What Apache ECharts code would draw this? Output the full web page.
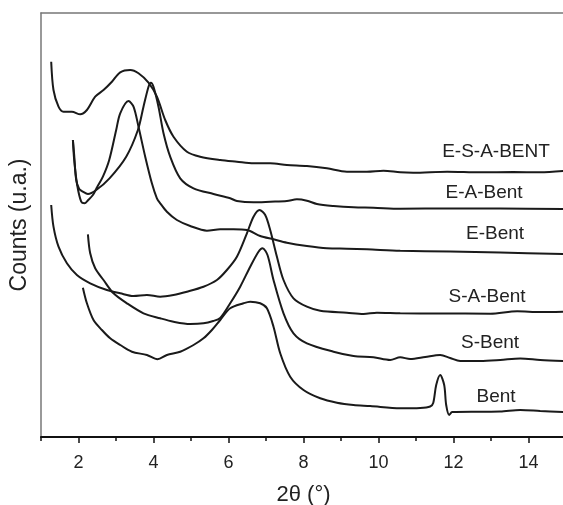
<!DOCTYPE html>
<html>
<head>
<meta charset="utf-8">
<script src="https://cdn.jsdelivr.net/npm/echarts@6/dist/echarts.min.js"></script>
<style>html,body{margin:0;padding:0;background:#fff}#c{width:563px;height:505px}</style>
</head>
<body>
<div id="c"></div>
<script>
// ---- data (2θ in degrees, counts in arbitrary units) ----
var seriesNames = ['E-S-A-BENT', 'E-A-Bent', 'E-Bent', 'S-A-Bent', 'S-Bent', 'Bent'];
var xTickLabels = [2, 4, 6, 8, 10, 12, 14];

var esabent = [[1.272,375.3],[1.333,347],[1.467,330.3],[1.6,325.3],[1.824,325.3],[2.045,322.7],[2.224,327],[2.445,340.3],[2.667,347],[2.891,355.3],[3.112,364.7],[3.379,367],[3.6,363.7],[3.867,354.3],[4.091,340.3],[4.312,317],[4.533,300.3],[4.891,285.3],[5.245,280.3],[5.779,277],[6.224,275.3],[6.667,273.7],[7.112,273.7],[7.557,272],[8.091,271],[8.624,268.7],[9.157,265.3],[9.691,265.3],[10.133,266.3],[10.579,264.7],[10.925,264.3],[11.832,265.3],[12.712,264.7],[13.592,265],[14.312,264.7],[14.925,266]];

var eabent = [[1.851,297],[1.885,282],[1.939,257],[2.019,248],[2.117,245.3],[2.251,243],[2.472,247],[2.827,258.7],[3.272,280.3],[3.584,307],[3.733,330.3],[3.867,350.3],[3.931,354.3],[4.0,350.3],[4.133,330.3],[4.267,303.7],[4.445,280.3],[4.712,258.7],[5.067,248.7],[5.6,243],[6.045,238.7],[6.224,236],[6.667,234.7],[7.112,235.3],[7.557,236],[7.824,237.7],[8.091,236.3],[8.357,233],[8.8,231],[9.333,229.7],[9.867,229.3],[10.579,228.3],[11.912,228.5],[13.245,228.5],[14.925,228]];

var ebent = [[1.851,297],[1.885,277],[1.965,252],[2.072,235.3],[2.16,233.7],[2.259,237],[2.384,242],[2.499,250],[2.651,260.3],[2.819,277],[3.005,307],[3.112,323.7],[3.333,336],[3.467,330.3],[3.6,310.3],[3.779,280.3],[3.957,253.7],[4.091,238.7],[4.179,233.7],[4.357,225.3],[4.624,217],[4.979,211],[5.424,206.3],[5.779,207.7],[6.133,207.7],[6.491,207],[6.845,201],[7.2,197.7],[7.557,194.3],[8.091,191],[8.624,188.7],[9.157,188.3],[9.691,187.7],[10.579,186.3],[11.912,185.5],[13.245,184.5],[14.925,183]];

var sabent = [[1.272,232],[1.333,210.3],[1.467,190.3],[1.691,173.7],[1.957,162],[2.312,153.7],[2.757,147],[3.112,143.7],[3.467,141],[3.824,142],[4.179,140.3],[4.533,142],[4.891,145.3],[5.333,150.3],[5.691,157],[5.957,167],[6.224,180.3],[6.491,203.7],[6.667,220.3],[6.827,227],[6.979,222],[7.112,207],[7.291,180.3],[7.467,157],[7.733,138.7],[8.091,130.3],[8.445,126.3],[9.157,124.3],[9.6,123],[9.957,124.3],[10.579,123.7],[11.645,123.5],[12.979,123.3],[13.699,125.7],[14.312,125],[14.925,125.3]];

var sbent = [[2.251,202.7],[2.312,183.7],[2.445,168.7],[2.667,157],[2.933,143.7],[3.291,133.7],[3.733,123.7],[4.179,118.7],[4.533,115.3],[4.979,113],[5.333,113.7],[5.592,116],[5.779,119],[6.045,133.7],[6.312,150.3],[6.579,170.3],[6.8,185.3],[6.907,188.7],[7.04,182],[7.2,157],[7.467,123.7],[7.733,103.7],[8.091,93.7],[8.8,85.3],[9.333,81],[9.867,79.7],[10.312,77],[10.579,79.7],[10.845,78],[11.245,80],[11.645,82],[11.912,79],[12.179,76],[12.712,76],[13.245,77],[13.779,78.5],[14.312,77],[14.925,76]];

var bent = [[2.117,149.3],[2.224,133.7],[2.4,117],[2.624,107],[2.845,98.7],[3.112,92],[3.424,85.3],[3.824,82],[4.107,77.7],[4.357,82],[4.712,85.3],[5.067,92],[5.333,98.7],[5.557,107],[5.779,117],[6.045,128.7],[6.4,133.7],[6.579,135.3],[6.845,133.7],[7.024,128.7],[7.2,110.3],[7.379,83.7],[7.645,60.3],[8.0,47],[8.445,38.7],[8.891,34.3],[9.333,32],[9.779,31],[10.579,28.7],[11.112,29],[11.379,30.5],[11.459,34],[11.539,52],[11.645,62],[11.752,52],[11.805,32],[11.885,22],[11.965,25],[12.712,25.3],[13.245,25.5],[13.779,27],[14.312,26],[14.925,25]];

var allData = [esabent, eabent, ebent, sabent, sbent, bent];
// label anchor positions (pixels) - layout only
var labelPos = [[496,152],[484,193],[495,234],[487,297],[490,343],[496,397]];

var FONT = '"Liberation Sans", Arial, Helvetica, sans-serif';
var chart = echarts.init(document.getElementById('c'), null, {renderer: 'canvas'});

var series = allData.map(function (d, i) {
  return {
    name: seriesNames[i], type: 'line', data: d, xAxisIndex: 0, yAxisIndex: 0,
    showSymbol: false, smooth: 0.3, animation: false, clip: false,
    lineStyle: {color: '#1a1a1a', width: 2}
  };
});

var graphics = seriesNames.map(function (n, i) {
  return {
    type: 'text', x: labelPos[i][0], y: labelPos[i][1],
    style: {text: n, font: '19px ' + FONT, fill: '#222', textAlign: 'center', textVerticalAlign: 'middle'}
  };
});

chart.setOption({
  animation: false,
  backgroundColor: '#fff',
  grid: {left: 41, right: -3, top: 13, bottom: 68, containLabel: false, outerBoundsMode: 'none'},
  xAxis: [{
    type: 'value', min: 1, max: 15, interval: 1, position: 'bottom',
    name: '2θ (°)', nameLocation: 'middle', nameGap: 47,
    nameTextStyle: {fontFamily: FONT, fontSize: 22, color: '#222'},
    axisLine: {show: true, lineStyle: {color: '#111', width: 2}},
    axisTick: {show: true, inside: false, length: 6, customValues: xTickLabels, lineStyle: {color: '#111', width: 1.5}},
    axisLabel: {show: true, customValues: xTickLabels, fontFamily: FONT, fontSize: 18, color: '#222', margin: 17},
    splitLine: {show: false}
  }, {
    type: 'value', min: 1, max: 15, interval: 1, position: 'bottom',
    axisLine: {show: false},
    axisTick: {show: true, inside: false, length: 4, lineStyle: {color: '#111', width: 1.5}},
    axisLabel: {show: false}, splitLine: {show: false}
  }, {
    type: 'value', min: 1, max: 15, position: 'top',
    axisLine: {show: true, lineStyle: {color: '#777', width: 1.5}},
    axisTick: {show: false}, axisLabel: {show: false}, splitLine: {show: false}
  }],
  yAxis: [{
    type: 'value', min: 0, max: 424,
    name: 'Counts (u.a.)', nameLocation: 'middle', nameGap: 10,
    nameTextStyle: {fontFamily: FONT, fontSize: 23, color: '#222'},
    axisLine: {show: true, lineStyle: {color: '#777', width: 1.5}},
    axisTick: {show: false}, axisLabel: {show: false}, splitLine: {show: false}
  }],
  series: series,
  graphic: graphics
});
</script>
</body>
</html>
